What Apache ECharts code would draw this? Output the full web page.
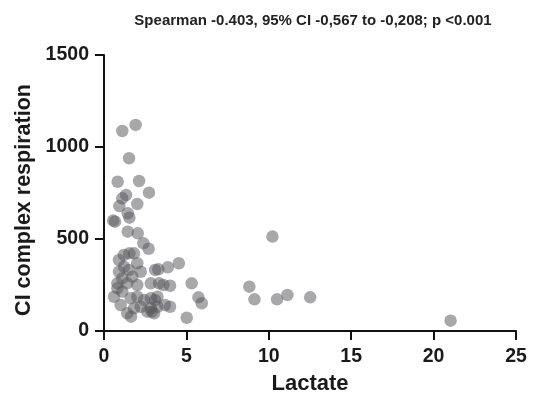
<!DOCTYPE html>
<html>
<head>
<meta charset="utf-8">
<script src="https://cdn.jsdelivr.net/npm/echarts@6/dist/echarts.min.js"></script>
<style>
  html, body { margin: 0; padding: 0; background: #fff; }
  #chart { width: 533px; height: 400px; }
</style>
</head>
<body>
<div id="chart"></div>
<script>
// lactate (x) vs CI complex respiration (y)
var lactate = [
  1.11, 1.92, 1.52, 0.83, 2.13, 2.73, 1.34, 1.11, 0.93, 2.02,
  0.56, 0.67, 1.44, 1.54, 1.44, 2.05, 2.39, 2.71, 4.54, 3.87,
  3.30, 3.10, 5.32, 5.73, 5.93, 5.02, 1.64, 10.22, 8.82, 9.13,
  10.50, 11.13, 12.51, 21.03,
  1.21, 1.54, 1.82, 0.91, 1.21, 2.02, 0.91, 1.52, 2.23, 1.11,
  1.72, 0.81, 1.41, 2.02, 2.84, 3.34,
  0.61, 1.11, 1.62, 2.02, 2.43, 2.84, 3.24, 1.01, 1.82, 1.41,
  2.23, 2.84, 3.24, 2.63, 0.81,
  4.01, 3.60, 3.10, 3.70, 2.90, 4.01, 3.04
];
var respiration = [
  1087, 1120, 939, 811, 815, 752, 739, 721, 679, 690,
  600, 594, 640, 616, 540, 531, 477, 447, 368, 346,
  335, 332, 259, 183, 151, 72, 78, 513, 241, 172,
  172, 196, 183, 56,
  413, 422, 422, 386, 349, 368, 322, 332, 322, 286,
  295, 259, 259, 250, 259, 259,
  186, 214, 178, 186, 168, 178, 186, 141, 123, 96,
  132, 123, 132, 105, 232,
  246, 250, 168, 141, 105, 132, 96
];
var titleText = 'Spearman -0.403, 95% CI -0,567 to -0,208; p <0.001';

var points = lactate.map(function (x, i) { return [x, respiration[i]]; });

var chart = echarts.init(document.getElementById('chart'), null, { renderer: 'canvas' });

var axisFont = { fontFamily: 'Liberation Sans, Arial, sans-serif', fontWeight: 'bold', color: '#1a1a1a' };

var option = {
  backgroundColor: '#fff',
  animation: false,
  title: {
    text: titleText,
    left: 308,
    top: 8,
    textAlign: 'center',
    textStyle: { fontFamily: 'Liberation Sans, Arial, sans-serif', fontWeight: 'bold', fontSize: 15, color: '#222' }
  },
  grid: { left: 104, right: 17, top: 55, bottom: 69 },
  xAxis: {
    type: 'value',
    min: 0, max: 25, interval: 5,
    name: 'Lactate',
    nameLocation: 'middle',
    nameGap: 42,
    nameTextStyle: Object.assign({ fontSize: 22 }, axisFont),
    axisLine: { show: true, lineStyle: { color: '#111', width: 2 } },
    axisTick: { show: true, length: 9, lineStyle: { color: '#111', width: 2 } },
    axisLabel: Object.assign({ fontSize: 19.5, margin: 16, formatter: function (v) { return String(v); } }, axisFont),
    splitLine: { show: false }
  },
  yAxis: {
    type: 'value',
    min: 0, max: 1500, interval: 500,
    name: 'CI complex respiration',
    nameLocation: 'middle',
    nameGap: 69,
    nameTextStyle: Object.assign({ fontSize: 21.5, padding: [0, 14, 0, 0] }, axisFont),
    axisLine: { show: true, lineStyle: { color: '#111', width: 2 } },
    axisTick: { show: true, length: 9, lineStyle: { color: '#111', width: 2 } },
    axisLabel: Object.assign({ fontSize: 19.5, margin: 15, formatter: function (v) { return String(v); } }, axisFont),
    splitLine: { show: false }
  },
  series: [{
    type: 'scatter',
    data: points,
    symbol: 'circle',
    symbolSize: 12.5,
    itemStyle: { color: 'rgba(85,85,90,0.64)', borderWidth: 0 }
  }]
};

chart.setOption(option);
</script>
</body>
</html>
